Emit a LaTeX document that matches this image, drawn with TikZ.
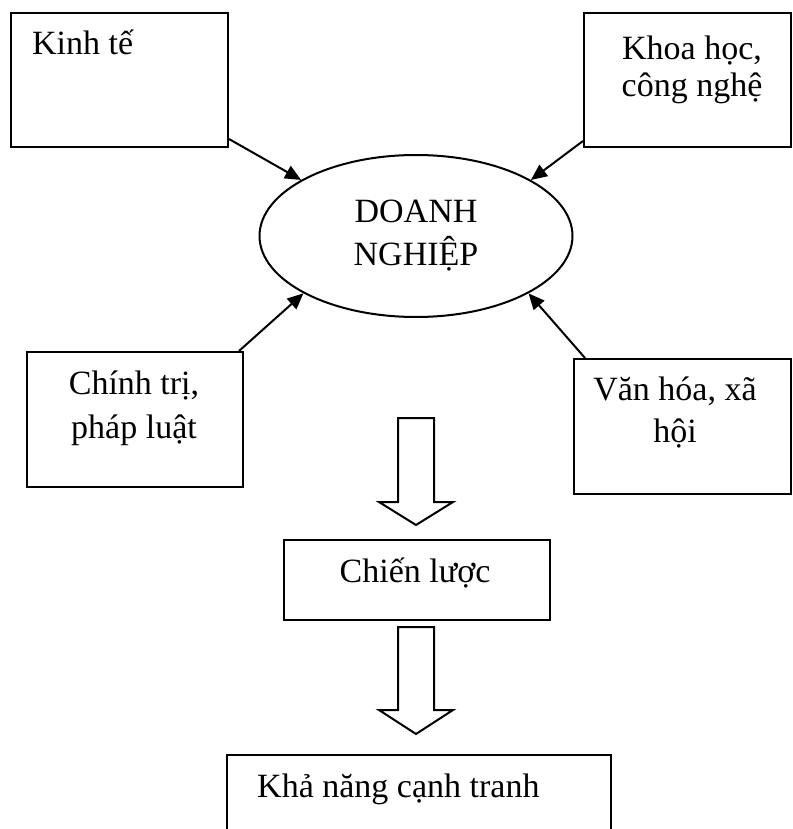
\documentclass[tikz,border=0pt]{standalone}
\usepackage{fontspec}
\setmainfont{Liberation Serif}
\usetikzlibrary{shapes.geometric,arrows.meta}
\begin{document}
\begin{tikzpicture}[x=1pt,y=-1pt,
  box/.style={draw,line width=2pt,inner sep=0pt,anchor=north west},
  txt/.style={inner sep=0pt,font=\fontsize{34}{40}\selectfont},
  link/.style={line width=2pt,-{Triangle[length=16pt,width=14pt]}},
  hollow/.style={draw,line width=2pt,fill=white,line join=miter}]
\useasboundingbox (0,0) rectangle (792,829);
% boxes
\node[box,minimum width=217pt,minimum height=134pt] (kt) at (10,12) {};
\node[box,minimum width=207pt,minimum height=134pt] (kh) at (583,12) {};
\node[box,minimum width=216pt,minimum height=135pt] (ct) at (26,351) {};
\node[box,minimum width=217pt,minimum height=135pt] (vh) at (573,358) {};
\node[box,minimum width=266pt,minimum height=80pt] (cl) at (283,539) {};
\node[box,minimum width=384pt,minimum height=140pt] (kn) at (226,754) {};
\node[draw,line width=2pt,ellipse,inner sep=0pt,minimum width=313pt,minimum height=162pt] (dn) at (416,236) {};
% texts
\node[txt,anchor=base west] (t1) at (32,55) {Kinh tế};
\node[txt,anchor=base] (t2a) at (692,60) {Khoa học,};
\node[txt,anchor=base] (t2b) at (692,97) {công nghệ};
\node[txt,anchor=base] (t3a) at (416,222) {DOANH};
\node[txt,anchor=base] (t3b) at (416,265) {NGHIỆP};
\node[txt,anchor=base] (t4a) at (134,394) {Chính trị,};
\node[txt,anchor=base] (t4b) at (134,438) {pháp luật};
\node[txt,anchor=base] (t5a) at (675,400) {Văn hóa, xã};
\node[txt,anchor=base] (t5b) at (675,442) {hội};
\node[txt,anchor=base] (t6) at (415,582) {Chiến lược};
\node[txt,anchor=base west] (t7) at (257,797) {Khả năng cạnh tranh};
% connectors
\draw[link] ([yshift=9pt]kt.south east) -- (dn.154);
\draw[link] ([yshift=7pt]kh.south west) -- (dn.26);
\draw[link] ([xshift=-5pt]ct.north east) -- (dn.207);
\draw[link] ([xshift=12pt]vh.north west) -- (dn.333);
% hollow arrows
\draw[hollow] (398,418) -- (434,418) -- (434,502) -- (453,502) -- (416,525) -- (379,502) -- (398,502) -- cycle;
\draw[hollow] (398,627) -- (434,627) -- (434,710) -- (453,710) -- (416,734) -- (379,710) -- (398,710) -- cycle;
\end{tikzpicture}
\end{document}
